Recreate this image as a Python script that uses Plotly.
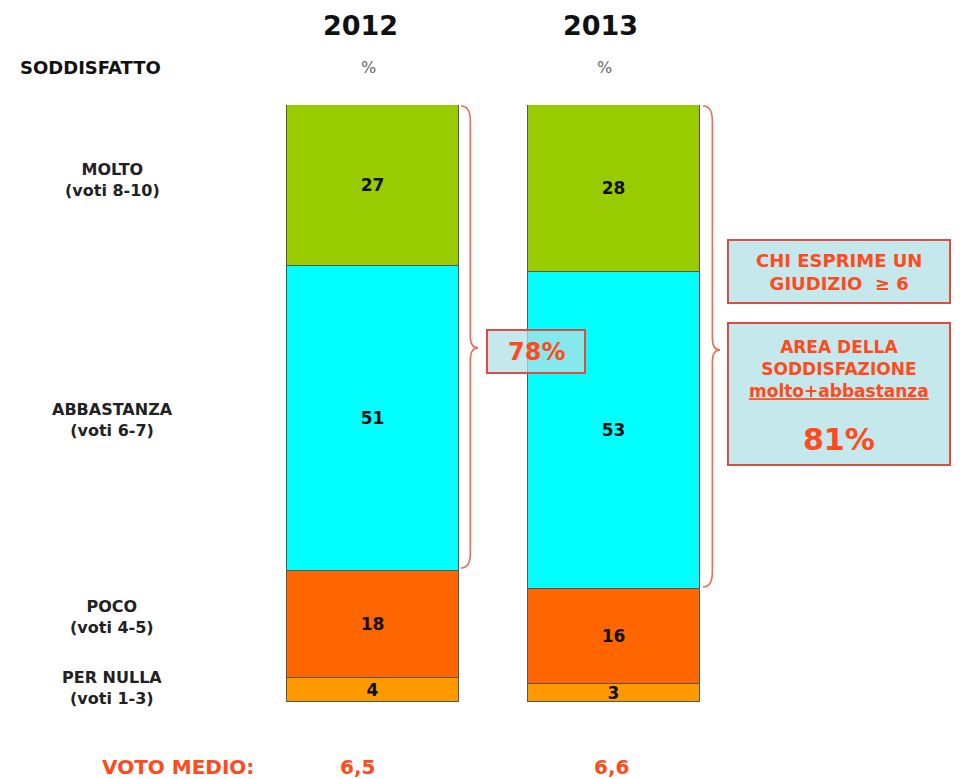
import plotly.graph_objects as go

# ---- data ----
years = ["2012", "2013"]
categories = ["PER NULLA", "POCO", "ABBASTANZA", "MOLTO"]
cat_labels = ["PER NULLA<br>(voti 1-3)", "POCO<br>(voti 4-5)",
              "ABBASTANZA<br>(voti 6-7)", "MOLTO<br>(voti 8-10)"]
per_nulla = [4, 3]
poco = [18, 16]
abbastanza = [51, 53]
molto = [27, 28]
voto_medio = ["6,5", "6,6"]
area_soddisfazione = ["78%", "81%"]

series = [per_nulla, poco, abbastanza, molto]
colors = ["#FF9900", "#FF6600", "#00FFFF", "#99CC00"]

W, H = 964, 779
TOP, BOT = 105, 702  # plot area pixel bounds (y)
FONT = "DejaVu Sans"
RED = "#FF4A1C"


def px(x):
    return x / W


def py(y):
    return (BOT - y) / (BOT - TOP)


fig = go.Figure()
for name, vals, col in zip(categories, series, colors):
    fig.add_trace(go.Bar(
        x=years, y=vals, name=name,
        marker=dict(color=col, line=dict(color="#555555", width=1)),
        text=["<b>%d</b>" % v for v in vals], textposition="inside",
        insidetextanchor="middle", textangle=0, constraintext="none",
        textfont=dict(family=FONT, size=17, color="#111111"),
        width=0.714, showlegend=False, hoverinfo="skip",
    ))

annotations = []


def note(x, y, text, size, color, **kw):
    d = dict(x=px(x), y=py(y), xref="paper", yref="paper", text=text,
             showarrow=False, xanchor="center", yanchor="middle",
             font=dict(family=FONT, size=size, color=color))
    d.update(kw)
    annotations.append(d)


# year headers and % signs
for yr, xc in zip(years, [360, 600]):
    note(xc, 25, "<b>%s</b>" % yr, 27, "#111111")
for xc in [368, 604]:
    note(xc, 67, "%", 16, "#666666")
note(90, 67, "<b>SODDISFATTO</b>", 18, "#111111")

# category labels on the left
for lab, yc in zip(cat_labels, [688, 617, 420, 180]):
    note(112, yc, "<b>%s</b>" % lab, 16, "#222222")

# voto medio
note(178, 767, "<b>VOTO MEDIO:</b>", 20, RED)
for v, xc in zip(voto_medio, [357, 611]):
    note(xc, 767, "<b>%s</b>" % v, 20, RED)

shapes = []


def brace(x0, xm, y0, y1, ym):
    # curly brace opening to the left, tip pointing right at (xm, ym)
    xa = x0 + (xm - x0) * 0.55
    path = (f"M {px(x0)},{py(y0)} "
            f"Q {px(xa)},{py(y0)} {px(xa)},{py(y0 + 15)} "
            f"L {px(xa)},{py(ym - 12)} "
            f"Q {px(xa)},{py(ym)} {px(xm)},{py(ym)} "
            f"Q {px(xa)},{py(ym)} {px(xa)},{py(ym + 12)} "
            f"L {px(xa)},{py(y1 - 15)} "
            f"Q {px(xa)},{py(y1)} {px(x0)},{py(y1)}")
    shapes.append(dict(type="path", xref="paper", yref="paper", path=path,
                       line=dict(color="#F26B4A", width=1.6)))


brace(461, 478, 106, 568, 348)
brace(703, 720, 106, 587, 350)


def box(x0, y0, x1, y1):
    shapes.append(dict(type="rect", xref="paper", yref="paper",
                       x0=px(x0), x1=px(x1), y0=py(y1), y1=py(y0),
                       fillcolor="rgba(176,224,230,0.75)",
                       line=dict(color="#DD4B45", width=2)))


box(487, 330, 585, 373)
box(728, 240, 950, 303)
box(728, 323, 950, 465)

note(536, 352, "<b>%s</b>" % area_soddisfazione[0], 24, RED)
note(839, 272, "<b>CHI ESPRIME UN<br>GIUDIZIO  ≥ 6</b>", 18, RED)
note(839, 369, "<b>AREA DELLA<br>SODDISFAZIONE<br><u>molto+abbastanza</u></b>", 17, RED)
note(839, 439, "<b>%s</b>" % area_soddisfazione[1], 30, RED)

fig.update_layout(
    barmode="stack", bargap=0,
    width=W, height=H,
    margin=dict(l=0, r=0, t=TOP, b=H - BOT, pad=0),
    plot_bgcolor="white", paper_bgcolor="white",
    xaxis=dict(type="category", range=[-1.548, 2.452], visible=False, fixedrange=True),
    yaxis=dict(range=[0, 100], visible=False, fixedrange=True),
    annotations=annotations, shapes=shapes,
)

fig.write_html("out.html")
